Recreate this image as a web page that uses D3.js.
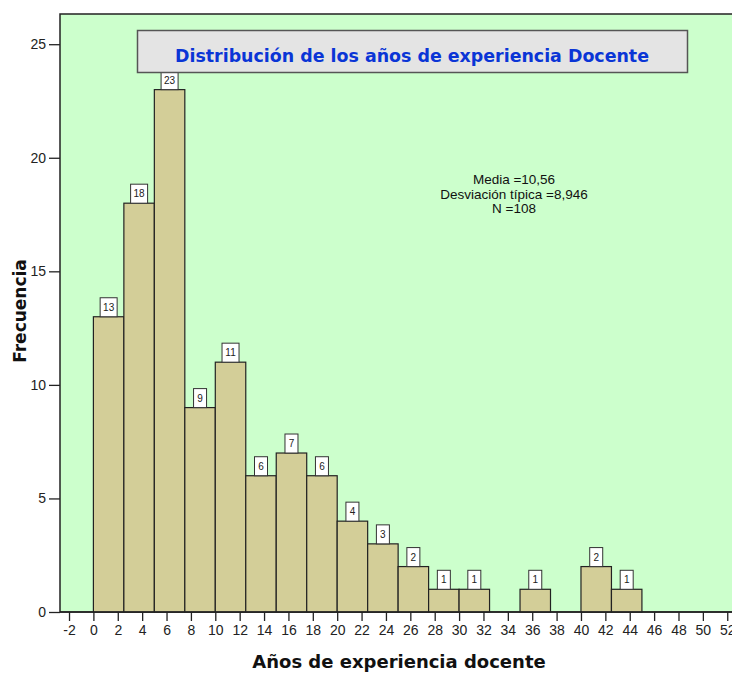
<!DOCTYPE html>
<html><head><meta charset="utf-8">
<script src="https://cdn.jsdelivr.net/npm/d3@7"></script>
<style>body{margin:0;background:#fff;}svg{display:block;font-family:"Liberation Sans",Arial,sans-serif;}</style>
</head><body>
<svg id="c" width="732" height="673"></svg>
<script>
const binStarts = [0,2.5,5,7.5,10,12.5,15,17.5,20,22.5,25,27.5,30,32.5,35,37.5,40,42.5];
const counts    = [13,18,23,9,11,6,7,6,4,3,2,1,1,0,1,0,2,1];
const binWidth = 2.5;
const xTicks = d3.range(-2, 53, 2);
const yTicks = [0,5,10,15,20,25];
const title = "Distribución de los años de experiencia Docente";
const statsLines = ["Media =10,56","Desviación típica =8,946","N =108"];
const xLabel = "Años de experiencia docente";
const yLabel = "Frecuencia";

const svg = d3.select("#c");
const L = 60, T = 14, R = 737, B = 612;
const x = d3.scaleLinear().domain([-2.74, 52.8]).range([L, R]);
const y = d3.scaleLinear().domain([0, 26.33]).range([B, T]);

svg.append("rect").attr("x", L).attr("y", T).attr("width", R-L).attr("height", B-T)
  .attr("fill", "#CCFFCC").attr("stroke", "#222").attr("stroke-width", 1.5);

// bars
const data = binStarts.map((s,i)=>({s, c: counts[i]})).filter(d=>d.c>0);
svg.append("g").selectAll("rect").data(data).join("rect")
  .attr("x", d=>x(d.s)).attr("y", d=>y(d.c))
  .attr("width", d=>x(d.s+binWidth)-x(d.s)).attr("height", d=>y(0)-y(d.c))
  .attr("fill", "#D3CE98").attr("stroke", "#222").attr("stroke-width", 1.2);

// value labels
const lg = svg.append("g").selectAll("g").data(data).join("g")
  .attr("transform", d=>`translate(${x(d.s+binWidth/2)},${y(d.c)})`);
lg.append("rect").attr("x", d=> String(d.c).length>1 ? -8.5 : -6.5).attr("y", -19)
  .attr("width", d=> String(d.c).length>1 ? 17 : 13).attr("height", 19)
  .attr("fill", "#fff").attr("stroke", "#333").attr("stroke-width", 1);
lg.append("text").attr("y", -6).attr("text-anchor", "middle").attr("font-size", 10)
  .attr("fill", "#222").text(d=>d.c);

// axes
const xAxis = d3.axisBottom(x).tickValues(xTicks).tickSize(9).tickPadding(4).tickFormat(d=>String(d));
const gx = svg.append("g").attr("transform", `translate(0,${B})`).call(xAxis);
gx.select(".domain").attr("stroke", "#222").attr("stroke-width", 1.5).attr("d", `M${L},0H${R}`);
gx.selectAll(".tick line").attr("stroke", "#222").attr("stroke-width", 1.3);
gx.selectAll("text").attr("font-size", 14).attr("fill", "#222").attr("font-family", "Liberation Sans, Arial, sans-serif");

const yAxis = d3.axisLeft(y).tickValues(yTicks).tickSize(11).tickPadding(3);
const gy = svg.append("g").attr("transform", `translate(${L},0)`).call(yAxis);
gy.select(".domain").remove();
gy.selectAll(".tick line").attr("stroke", "#222").attr("stroke-width", 1.3);
gy.selectAll("text").attr("font-size", 14).attr("fill", "#222").attr("font-family", "Liberation Sans, Arial, sans-serif");

// title box
svg.append("rect").attr("x", 137.5).attr("y", 30.5).attr("width", 550).attr("height", 42)
  .attr("fill", "#E4E4E4").attr("stroke", "#555").attr("stroke-width", 1.5);
svg.append("text").attr("x", 412).attr("y", 62).attr("text-anchor", "middle")
  .attr("font-family", "DejaVu Sans, sans-serif").attr("font-weight", "bold").attr("font-size", 18.5)
  .attr("textLength", 474).attr("lengthAdjust", "spacingAndGlyphs")
  .attr("fill", "#0A35D6").text(title);

// stats
svg.append("g").selectAll("text").data(statsLines).join("text")
  .attr("x", 514).attr("y", (d,i)=>184 + i*14.5).attr("text-anchor", "middle")
  .attr("font-size", 13.5).attr("fill", "#111").text(d=>d);

// axis titles
svg.append("text").attr("x", 399).attr("y", 668).attr("text-anchor", "middle")
  .attr("font-family", "DejaVu Sans, sans-serif").attr("font-weight", "bold").attr("font-size", 18)
  .attr("fill", "#111").text(xLabel);
svg.append("text").attr("transform", "translate(26,311) rotate(-90)").attr("text-anchor", "middle")
  .attr("font-family", "DejaVu Sans, sans-serif").attr("font-weight", "bold").attr("font-size", 17)
  .attr("fill", "#111").text(yLabel);
</script>
</body></html>
